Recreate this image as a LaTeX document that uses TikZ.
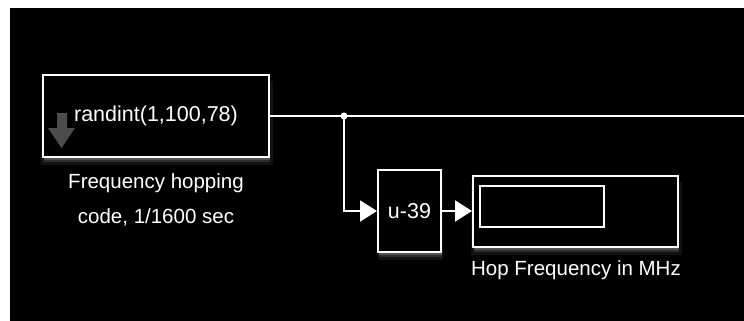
\documentclass[tikz,border=0pt]{standalone}
\usepackage{fontspec}
\setmainfont{Liberation Sans}
\usetikzlibrary{arrows.meta,shadows}
\tikzset{
  glow/.style={
    general shadow={fill=white, opacity=.07, shadow xshift=1pt, shadow yshift=-7pt, shadow scale=1.03},
    general shadow={fill=white, opacity=.12, shadow xshift=1pt, shadow yshift=-5pt},
    general shadow={fill=white, opacity=.18, shadow xshift=1pt, shadow yshift=-3pt}},
  blk/.style={draw=white, line width=2pt, fill=black, rectangle, inner sep=0pt,
    text=white, font=\fontsize{21.5}{26}\selectfont, glow},
  win/.style={draw=white, line width=2pt, rectangle, inner sep=0pt},
  lbl/.style={text=white, font=\fontsize{20.5}{35}\selectfont, align=center},
  sig/.style={draw=white, line width=2pt},
  tip/.style={-{Triangle[length=17pt,width=21pt]}},
}
\begin{document}
\begin{tikzpicture}[x=1pt, y=-1pt]
      \useasboundingbox (0,0) rectangle (744,321);
      \fill[white] (0,0) rectangle (744,321);
      \fill[black] (10,8) rectangle (744,321);
      \draw
        (156,116) node[blk, minimum width=226pt, minimum height=82pt] (src){randint(1,100,78)}
        (156,200) node[lbl] (srclbl){Frequency hopping\\code, 1/1600 sec}
        (409.5,211) node[blk, minimum width=63pt, minimum height=82pt] (gain){u-39}
        (575.5,211) node[blk, minimum width=205pt, minimum height=71pt] (disp){}
        (542,206.5) node[win, minimum width=124pt, minimum height=41pt] (disptxt){}
        (576,270) node[lbl] (displbl){Hop Frequency in MHz};
      \coordinate (br) at (344,116);
      \coordinate (out) at (744,116);
      % sample-time arrow on the source block
      \fill[black!70] (57,113) -- (67,113) -- (67,128) -- (75,128) -- (61.5,148)
        -- (48,128) -- (57,128) -- cycle;
      \begin{scope}[sig]
        \draw (src.east) to (out);
        \draw[tip] (br) |- (gain.west);
        \draw[tip] (gain.east) to (disp.west);
        \fill[white] (br) circle (3.5pt);
      \end{scope}
    \end{tikzpicture}
\end{document}
